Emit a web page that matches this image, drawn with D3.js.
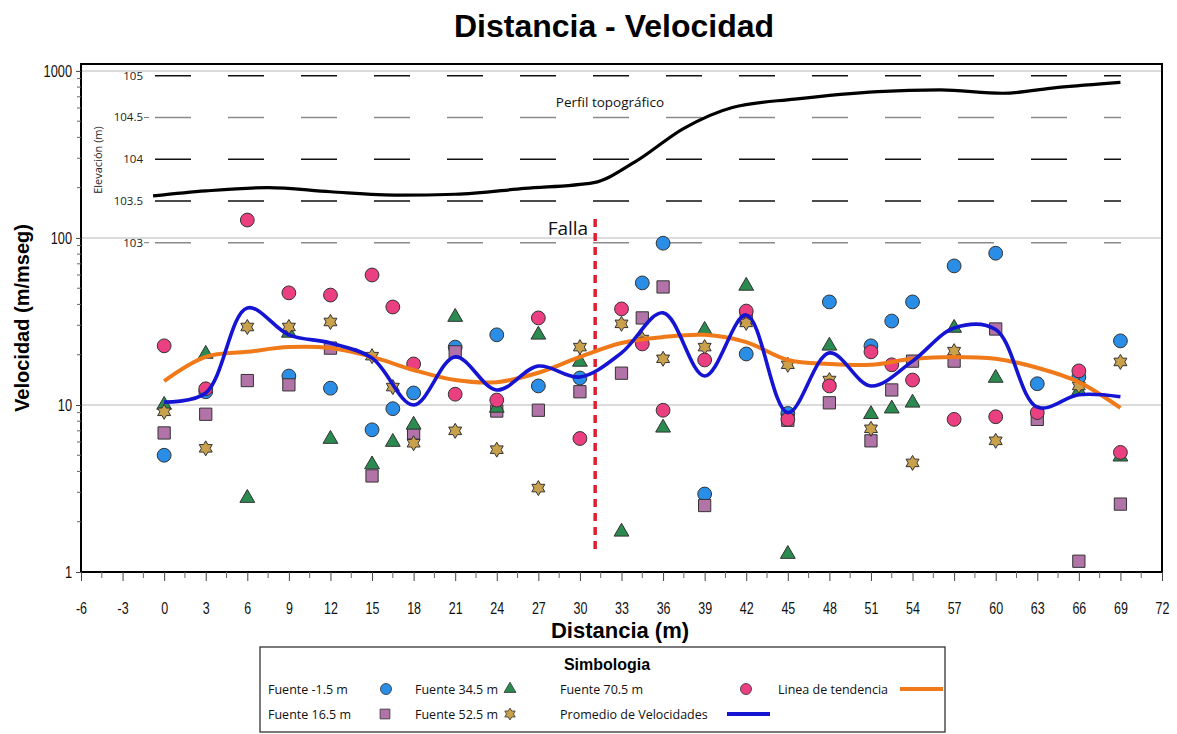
<!DOCTYPE html>
<html>
<head>
<meta charset="utf-8">
<script src="https://cdn.jsdelivr.net/npm/d3@7"></script>
<style>
  body { margin: 0; background: #fff; }
  svg { display: block; }
</style>
</head>
<body>
<svg id="chart" width="1177" height="734"></svg>
<script>
// ---- Data -------------------------------------------------------------
// Measurement positions along the line (m)
const distances = [0, 3, 6, 9, 12, 15, 16.5, 18, 21, 24, 27, 30, 33, 34.5, 36, 39, 42, 45, 48, 51, 52.5, 54, 57, 60, 63, 66, 69];

// Velocities (m/mseg) per shot point, aligned with `distances` (null = no reading)
const fuenteM1_5  = [5.0, 12.0, null, 14.9, 12.6, 7.1, 9.5, 11.8, 22.2, 26.3, 13.0, 14.5, null, 53.8, 93, 2.93, 20.2, 8.9, 41.4, 22.6, 31.8, 41.4, 68, 81, 13.4, 14.7, 24.2];
const fuente16_5  = [6.8, 8.8, 14.0, 13.2, 21.9, 3.76, null, 6.8, 20.8, 9.2, 9.3, 12.0, 15.5, 33.2, 50.9, 2.5, 33.0, 8.1, 10.3, 6.1, 12.3, 18.3, 18.3, 28.5, 8.2, 1.16, 2.55];
const fuente34_5  = [10.0, 20.2, 2.77, 27.0, 6.25, 4.4, 6.0, 7.6, 33.6, 9.6, 26.3, 18.1, 1.74, null, 7.3, 28.1, 51.6, 1.28, 22.6, 8.8, 9.5, 10.3, 28.9, 14.5, null, 12.1, 4.9];
const fuente52_5  = [9.1, 5.5, 29.3, 29.3, 31.4, 19.6, 12.8, 5.9, 7.0, 5.4, 3.18, 22.2, 30.6, 24.8, 18.9, 22.2, 31.0, 17.4, 14.1, 7.2, null, 4.5, 21.0, 6.1, null, 13.0, 18.1];
const fuente70_5  = [22.6, 12.5, 128, 46.9, 45.5, 60, 38.6, 17.6, 11.6, 10.7, 33.2, 6.3, 37.6, 23.2, 9.3, 18.6, 36.5, 8.2, 13.0, 20.8, 17.4, 14.1, 8.2, 8.5, 9.0, 16.0, 5.2];

// Average and trend curves (m/mseg)
const curveDistances = [0, 3, 6, 9, 12, 15, 18, 21, 24, 27, 30, 33, 36, 39, 42, 45, 48, 51, 54, 57, 60, 63, 66, 69];
const promedio   = [10.4, 11.8, 38.1, 26.3, 23.5, 19.1, 10.0, 19.4, 12.3, 17.1, 14.7, 20.5, 35.6, 14.9, 34.6, 9.0, 20.5, 13.0, 18.3, 28.9, 28.3, 9.7, 11.5, 11.2];
const tendencia  = [13.9, 19.4, 20.8, 22.2, 21.9, 19.4, 16.2, 14.1, 13.7, 15.6, 19.4, 23.5, 25.5, 26.3, 23.8, 18.6, 17.6, 17.4, 18.9, 19.4, 18.9, 16.7, 13.7, 9.6];

// Topographic profile (distance m, elevation m)
const topoDist = [-0.8, 3, 7.5, 12, 17, 21, 26, 31, 34, 37.5, 41, 45.5, 51.5, 56, 60.5, 64.5, 69];
const topoElev = [103.56, 103.62, 103.66, 103.61, 103.57, 103.58, 103.65, 103.72, 103.97, 104.37, 104.62, 104.72, 104.81, 104.83, 104.79, 104.86, 104.92];

// Axis ticks
const xTicks = [-6, -3, 0, 3, 6, 9, 12, 15, 18, 21, 24, 27, 30, 33, 36, 39, 42, 45, 48, 51, 54, 57, 60, 63, 66, 69, 72];
const yTicks = [1, 10, 100, 1000];
const elevTicks = [103, 103.5, 104, 104.5, 105];
const fallaDist = 31.1;

// ---- Layout -----------------------------------------------------------
const svg = d3.select("#chart");
const plot = { left: 81, right: 1162, top: 64, bottom: 572 };

const x = d3.scaleLinear().domain([-6, 72]).range([plot.left, plot.right]);
const y = d3.scaleLog().domain([1, 1100]).range([plot.bottom, plot.top]);
const yElev = d3.scaleLinear().domain([103, 105]).range([242.7, 75.7]);

const sans = "'Liberation Sans', Arial, sans-serif";
const soft = "'Open Sans', 'Noto Sans', sans-serif";

// Title
svg.append("text")
  .attr("x", 614).attr("y", 37)
  .attr("text-anchor", "middle")
  .style("font-family", sans).style("font-weight", "bold").style("font-size", "32px")
  .text("Distancia - Velocidad");

// Velocity gridlines
svg.append("g").selectAll("line").data([10, 100, 1000]).join("line")
  .attr("x1", plot.left).attr("x2", plot.right)
  .attr("y1", d => y(d)).attr("y2", d => y(d))
  .attr("stroke", "#cfcfcf").attr("stroke-width", 1.5);

// Elevation dashed guides
const elevG = svg.append("g");
elevG.selectAll("line").data(elevTicks).join("line")
  .attr("x1", 155).attr("x2", 1121)
  .attr("y1", d => yElev(d)).attr("y2", d => yElev(d))
  .attr("stroke", d => (d === 104.5 || d === 103) ? "#8a8a8a" : "#111")
  .attr("stroke-width", 1.4)
  .attr("stroke-dasharray", "36 37");
elevG.selectAll("line.tk").data([104.5, 103]).join("line").attr("class", "tk")
  .attr("x1", 144).attr("x2", 149)
  .attr("y1", d => yElev(d)).attr("y2", d => yElev(d))
  .attr("stroke", "#777").attr("stroke-width", 1);
elevG.selectAll("text").data(elevTicks).join("text")
  .attr("x", 143).attr("y", d => yElev(d) + 4)
  .attr("text-anchor", "end")
  .style("font-family", soft).style("font-size", "11.5px").style("fill", "#222")
  .text(d => d);
svg.append("text")
  .attr("transform", "translate(102,160) rotate(-90)")
  .attr("text-anchor", "middle")
  .style("font-family", soft).style("font-size", "11px").style("fill", "#222")
  .text("Elevación (m)");

// Topographic profile
svg.append("path")
  .datum(topoDist.map((d, i) => [d, topoElev[i]]))
  .attr("fill", "none").attr("stroke", "#000").attr("stroke-width", 3.2)
  .attr("stroke-linejoin", "round")
  .attr("d", d3.line().x(d => x(d[0])).y(d => yElev(d[1])).curve(d3.curveMonotoneX));
svg.append("text")
  .attr("x", 610).attr("y", 107)
  .attr("text-anchor", "middle")
  .style("font-family", soft).style("font-size", "13.5px").style("fill", "#111")
  .text("Perfil topográfico");

// Fault line
svg.append("line")
  .attr("x1", x(fallaDist)).attr("x2", x(fallaDist))
  .attr("y1", 219).attr("y2", 554)
  .attr("stroke", "#e02030").attr("stroke-width", 3.5)
  .attr("stroke-dasharray", "8 6");
svg.append("text")
  .attr("x", x(fallaDist) - 7).attr("y", 235)
  .attr("text-anchor", "end")
  .style("font-family", soft).style("font-size", "19px").style("fill", "#111")
  .text("Falla");

// ---- Markers ----------------------------------------------------------
function hexagram(r) {
  const pts = [];
  for (let i = 0; i < 12; i++) {
    const a = -Math.PI / 2 + i * Math.PI / 6;
    const rr = i % 2 === 0 ? r : r * 0.58;
    pts.push([rr * Math.cos(a), rr * Math.sin(a)]);
  }
  return "M" + pts.map(p => p.join(",")).join("L") + "Z";
}
const markerDefs = {
  circle:   { path: d3.symbol(d3.symbolCircle, 150)() },
  square:   { path: d3.symbol(d3.symbolSquare, 150)() },
  triangle: { path: d3.symbol(d3.symbolTriangle, 95)() },
  star:     { path: hexagram(7.5) }
};

const series = [
  { name: "Fuente -1.5 m", values: fuenteM1_5, shape: "circle",   color: "#2a8de6" },
  { name: "Fuente 16.5 m", values: fuente16_5, shape: "square",   color: "#b274a8" },
  { name: "Fuente 34.5 m", values: fuente34_5, shape: "triangle", color: "#2b8a4f" },
  { name: "Fuente 52.5 m", values: fuente52_5, shape: "star",     color: "#c9a04c" },
  { name: "Fuente 70.5 m", values: fuente70_5, shape: "circle",   color: "#ea3f80" }
];

const markG = svg.append("g");
series.forEach(s => {
  const pts = distances.map((d, i) => ({ d, v: s.values[i] })).filter(p => p.v != null);
  markG.append("g").selectAll("path").data(pts).join("path")
    .attr("transform", p => `translate(${x(p.d)},${y(p.v)})`)
    .attr("d", markerDefs[s.shape].path)
    .attr("fill", s.color)
    .attr("stroke", "#333").attr("stroke-width", 1);
});

// Average and trend curves
const curveLine = d3.line()
  .x(d => x(d[0])).y(d => y(d[1]))
  .curve(d3.curveCatmullRom.alpha(0.5));
svg.append("path")
  .datum(curveDistances.map((d, i) => [d, tendencia[i]]))
  .attr("fill", "none").attr("stroke", "#f07a1a").attr("stroke-width", 4)
  .attr("d", curveLine);
svg.append("path")
  .datum(curveDistances.map((d, i) => [d, promedio[i]]))
  .attr("fill", "none").attr("stroke", "#1414d2").attr("stroke-width", 3.6)
  .attr("d", curveLine);

// ---- Axes -------------------------------------------------------------
// Plot frame
svg.append("rect")
  .attr("x", plot.left).attr("y", plot.top)
  .attr("width", plot.right - plot.left).attr("height", plot.bottom - plot.top)
  .attr("fill", "none").attr("stroke", "#000").attr("stroke-width", 2);

// X axis (condensed tick labels, plain hyphen for negatives)
const xAxis = d3.axisBottom(x).tickValues(xTicks).tickFormat(d => String(d))
  .tickSize(9).tickSizeOuter(0).tickPadding(22);
const gx = svg.append("g").attr("transform", `translate(0,${plot.bottom})`).call(xAxis);
gx.select(".domain").remove();
gx.selectAll(".tick line").attr("stroke", "#444");
gx.selectAll(".tick text")
  .attr("transform", "scale(0.78,1)")
  .style("font-family", sans).style("font-size", "16px").style("fill", "#111");
const xMinor = d3.range(-4.5, 72, 3);
svg.append("g").selectAll("line").data(xMinor).join("line")
  .attr("x1", d => x(d)).attr("x2", d => x(d))
  .attr("y1", plot.bottom).attr("y2", plot.bottom + 6)
  .attr("stroke", "#666");

// Y axis
const yAxis = d3.axisLeft(y).tickValues(yTicks).tickFormat(d3.format("d"))
  .tickSize(5).tickSizeOuter(0).tickPadding(4);
const gy = svg.append("g").attr("transform", `translate(${plot.left},0)`).call(yAxis);
gy.select(".domain").remove();
gy.selectAll(".tick line").attr("stroke", "#444");
gy.selectAll(".tick text")
  .attr("transform", "scale(0.8,1)")
  .attr("x", -9 / 0.8)
  .style("font-family", sans).style("font-size", "16px").style("fill", "#111");
const yMinor = [];
[1, 10, 100].forEach(b => { for (let k = 2; k <= 9; k++) yMinor.push(b * k); });
svg.append("g").selectAll("line").data(yMinor).join("line")
  .attr("x1", plot.left - 4).attr("x2", plot.left)
  .attr("y1", d => y(d)).attr("y2", d => y(d))
  .attr("stroke", "#666");

// Axis titles
svg.append("text")
  .attr("x", 620).attr("y", 638)
  .attr("text-anchor", "middle")
  .style("font-family", sans).style("font-weight", "bold").style("font-size", "22px")
  .text("Distancia (m)");
svg.append("text")
  .attr("transform", "translate(29,318) rotate(-90)")
  .attr("text-anchor", "middle")
  .style("font-family", sans).style("font-weight", "bold").style("font-size", "20px")
  .text("Velocidad (m/mseg)");

// ---- Legend -----------------------------------------------------------
const lg = svg.append("g");
lg.append("rect")
  .attr("x", 260).attr("y", 647).attr("width", 685).attr("height", 85)
  .attr("fill", "#fff").attr("stroke", "#222").attr("stroke-width", 1.2);
lg.append("text")
  .attr("x", 607).attr("y", 670)
  .attr("text-anchor", "middle")
  .style("font-family", sans).style("font-weight", "bold").style("font-size", "16px")
  .text("Simbologia");

const legendItems = [
  { label: series[0].name, tx: 268, mx: 386, row: 0, s: series[0] },
  { label: series[2].name, tx: 415, mx: 510, row: 0, s: series[2] },
  { label: series[4].name, tx: 560, mx: 746, row: 0, s: series[4] },
  { label: "Linea de tendencia", tx: 778, lx: [900, 943], row: 0, stroke: "#f07a1a" },
  { label: series[1].name, tx: 268, mx: 385, row: 1, s: series[1] },
  { label: series[3].name, tx: 415, mx: 510, row: 1, s: series[3] },
  { label: "Promedio de Velocidades", tx: 560, lx: [727, 770], row: 1, stroke: "#1414d2" }
];
const rowY = [689, 714];
legendItems.forEach(it => {
  const cy = rowY[it.row];
  lg.append("text")
    .attr("x", it.tx).attr("y", cy + 4.5)
    .style("font-family", soft).style("font-size", "12.5px").style("fill", "#111")
    .text(it.label);
  if (it.s) {
    lg.append("path")
      .attr("transform", `translate(${it.mx},${cy}) scale(0.8)`)
      .attr("d", markerDefs[it.s.shape].path)
      .attr("fill", it.s.color).attr("stroke", "#333").attr("stroke-width", 1);
  } else {
    lg.append("line")
      .attr("x1", it.lx[0]).attr("x2", it.lx[1]).attr("y1", cy).attr("y2", cy)
      .attr("stroke", it.stroke).attr("stroke-width", 4);
  }
});
</script>
</body>
</html>
